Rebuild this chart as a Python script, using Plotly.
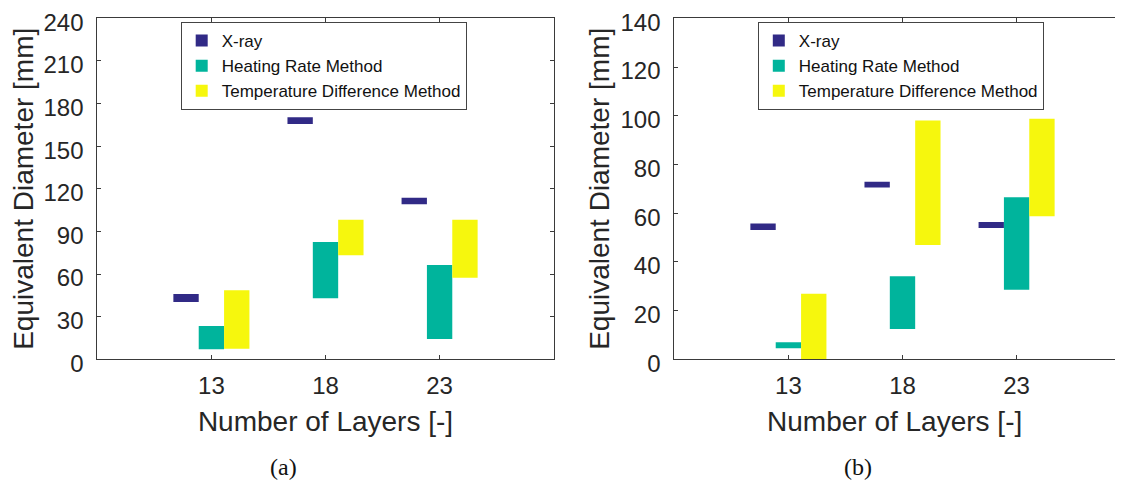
import plotly.graph_objects as go

# ---------------- data ----------------
layers = [13, 18, 23]
series_names = ["X-ray", "Heating Rate Method", "Temperature Difference Method"]
series_colors = ["#312a86", "#00b49c", "#f6f70d"]

# panel (a): floating bars, low / high ends [mm]
a_xray_low = [40.3, 165.6, 109.1]
a_xray_high = [46.0, 170.3, 113.7]
a_heat_low = [7.0, 42.9, 14.3]
a_heat_high = [23.4, 82.6, 66.4]
a_temp_low = [7.5, 73.2, 57.4]
a_temp_high = [48.6, 98.3, 98.3]

# panel (b)
b_xray_low = [53.1, 70.5, 53.9]
b_xray_high = [55.8, 72.9, 56.4]
b_heat_low = [4.5, 12.4, 28.6]
b_heat_high = [7.0, 34.1, 66.5]
b_temp_low = [0.0, 46.9, 58.7]
b_temp_high = [26.9, 98.0, 98.8]

a_ticks = [0, 30, 60, 90, 120, 150, 180, 210, 240]
b_ticks = [0, 20, 40, 60, 80, 100, 120, 140]

x_title = "Number of Layers [-]"
y_title = "Equivalent Diameter [mm]"
captions = ["(a)", "(b)"]

# ---------------- figure ----------------
PAGE_W, PAGE_H = 1123, 488
OFF = 8                      # default body margin of the html page
W, H = PAGE_W - 2 * OFF, PAGE_H - 2 * OFF

def px_x(p):                 # page pixel -> paper fraction
    return (p - OFF) / W

def px_y(p):
    return 1 - (p - OFF) / H

fig = go.Figure()

panels = [
    ("x", "y", "legend",
     [(a_xray_low, a_xray_high), (a_heat_low, a_heat_high), (a_temp_low, a_temp_high)]),
    ("x2", "y2", "legend2",
     [(b_xray_low, b_xray_high), (b_heat_low, b_heat_high), (b_temp_low, b_temp_high)]),
]

for xa, ya, lg, ranges in panels:
    for name, color, (lo, hi) in zip(series_names, series_colors, ranges):
        fig.add_trace(go.Bar(
            x=layers,
            base=lo,
            y=[h - l for l, h in zip(lo, hi)],
            name=name,
            marker=dict(color=color, line=dict(width=0)),
            xaxis=xa, yaxis=ya, legend=lg,
            hoverinfo="skip",
        ))

font_family = "Liberation Sans, Arial, sans-serif"
axis_col = "#3a3a3a"
txt_col = "#262626"

common_x = dict(
    range=[8, 28], tickvals=layers, ticktext=[str(v) for v in layers],
    showgrid=False, zeroline=False, showline=True, linecolor=axis_col, linewidth=1,
    ticks="inside", ticklen=4, tickcolor=axis_col, automargin=False,
    tickfont=dict(family=font_family, size=24, color=txt_col),
    ticklabelstandoff=5, ticklabeloverflow="allow",
    title=dict(text=x_title, font=dict(family=font_family, size=28, color=txt_col), standoff=13),
)
common_y = dict(
    showgrid=False, zeroline=False, showline=True, linecolor=axis_col, linewidth=1,
    ticks="inside", ticklen=4, tickcolor=axis_col, automargin=False,
    tickfont=dict(family=font_family, size=24, color=txt_col),
    ticklabelstandoff=8, ticklabelshift=4, ticklabeloverflow="allow",
)

def y_title_dict(standoff):
    return dict(text=y_title, font=dict(family=font_family, size=28, color=txt_col),
                standoff=standoff)

px_per_unit = (553.7 - 97.3) / 20.0
y_dom = [px_y(359.3), px_y(18.3)]
xa1 = dict(common_x, domain=[px_x(97.3), px_x(553.7)], anchor="y", mirror="ticks")
ya1 = dict(common_y, domain=y_dom, anchor="x", range=[0, 240], tickvals=a_ticks,
           mirror="ticks", title=y_title_dict(7))
# right panel runs past the image edge: cut the range to the visible part
xa2 = dict(common_x, domain=[px_x(674.3), 1.0], anchor="y2", mirror="ticks")
xa2["range"] = [8, 8 + (PAGE_W - OFF - 674.3) / px_per_unit]
ya2 = dict(common_y, domain=y_dom, anchor="x2", range=[0, 140], tickvals=b_ticks,
           mirror=False, title=y_title_dict(2))

legend_common = dict(
    font=dict(family=font_family, size=17, color="#111111"),
    bordercolor="#444444", borderwidth=1, bgcolor="white",
    xanchor="left", yanchor="top", tracegroupgap=0, itemwidth=30,
    itemclick=False, itemdoubleclick=False,
)

fig.update_layout(
    width=W, height=H,
    margin=dict(l=0, r=0, t=0, b=0, autoexpand=False),
    paper_bgcolor="white", plot_bgcolor="white",
    barmode="group", bargap=1 / 3, bargroupgap=0,
    xaxis=xa1, yaxis=ya1, xaxis2=xa2, yaxis2=ya2,
    legend=dict(legend_common, x=px_x(180.7), y=px_y(22)),
    legend2=dict(legend_common, x=px_x(757.8), y=px_y(22)),
    showlegend=True,
)

for cap, cx in zip(captions, [283, 858]):
    fig.add_annotation(
        text=cap, xref="paper", yref="paper", x=px_x(cx), y=px_y(467),
        xanchor="center", yanchor="middle", showarrow=False,
        font=dict(family="Liberation Serif, Times New Roman, serif", size=24, color="#111111"),
    )

fig.write_html("out.html")
